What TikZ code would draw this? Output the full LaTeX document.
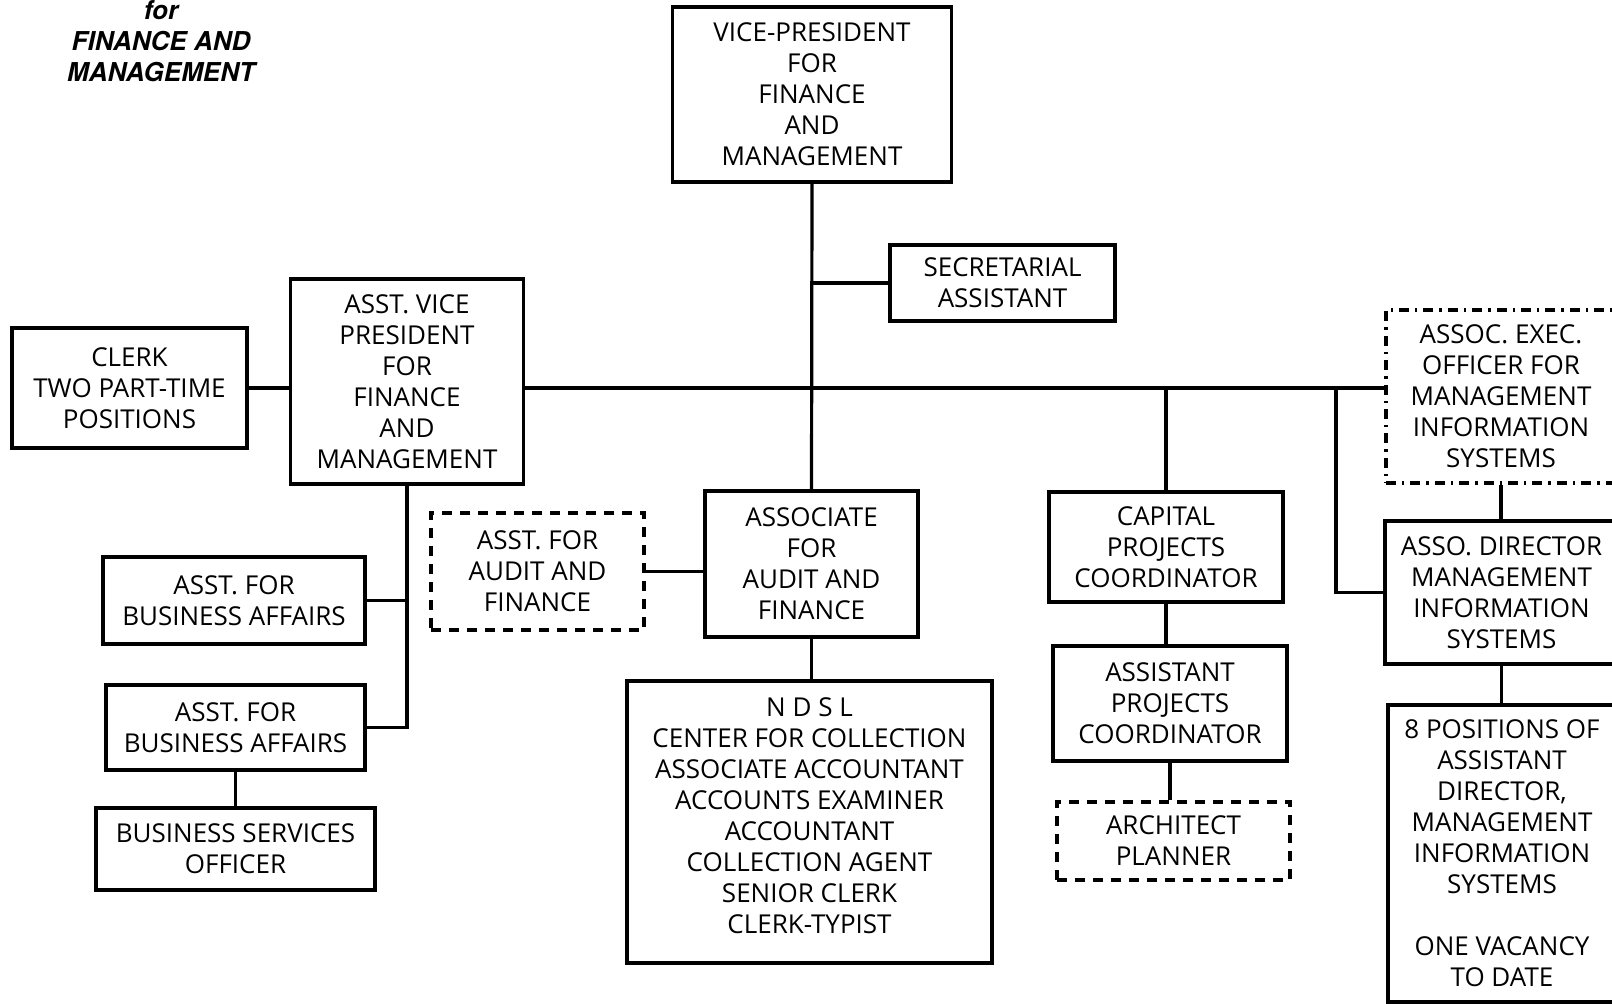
\documentclass[tikz,border=0pt]{standalone}
\usepackage{fontspec}
\setmainfont{Open Sans}
\newfontfamily\titlefont{TeX Gyre Heros}
\usetikzlibrary{positioning}
\tikzset{
  box/.style={draw, line width=1.8pt, inner sep=0pt, align=center,
    font=\fontsize{13}{15.5}\selectfont},
  dashbox/.style={box, dash pattern=on 5pt off 4pt},
  dotbox/.style={box, dash pattern=on 5pt off 3pt on 1.2pt off 3pt},
  wh/.style 2 args={minimum width=#1*0.5pt, minimum height=#2*0.5pt},
  link/.style={line width=1.6pt},
  heading/.style={align=center, font=\titlefont\bfseries\itshape\fontsize{13}{15.5}\selectfont}
}
\begin{document}
\begin{tikzpicture}[x=0.5pt, y=-0.5pt]
\useasboundingbox (0,0) rectangle (1612,1003);
\node[heading] (title) at (161,41) {for\\FINANCE AND\\MANAGEMENT};

\node[box, wh={279}{175}] (vp) at (812,94.5) {VICE-PRESIDENT\\FOR\\FINANCE\\AND\\MANAGEMENT};
\node[box, wh={225}{76}] (sec) at (1002.5,283) {SECRETARIAL\\ASSISTANT};
\node[box, wh={233}{205}] (avp) at (407,381.5) {ASST. VICE\\PRESIDENT\\FOR\\FINANCE\\AND\\MANAGEMENT};
\node[box, wh={235}{120}] (clerk) at (129.5,388) {CLERK\\TWO PART-TIME\\POSITIONS};
\node[box, wh={213}{146}] (assoc) at (811.5,564) {ASSOCIATE\\FOR\\AUDIT AND\\FINANCE};
\node[dashbox, wh={213}{117}] (audit) at (537.5,571.5) {ASST. FOR\\AUDIT AND\\FINANCE};
\node[box, wh={365}{282}, text depth=6pt] (ndsl) at (809.5,822) {N D S L\\CENTER FOR COLLECTION\\ASSOCIATE ACCOUNTANT\\ACCOUNTS EXAMINER\\ACCOUNTANT\\COLLECTION AGENT\\SENIOR CLERK\\CLERK-TYPIST};
\node[box, wh={262}{87}] (ba1) at (234,600.5) {ASST. FOR\\BUSINESS AFFAIRS};
\node[box, wh={259}{85}] (ba2) at (235.5,727.5) {ASST. FOR\\BUSINESS AFFAIRS};
\node[box, wh={279}{82}] (bso) at (235.5,849) {BUSINESS SERVICES\\OFFICER};
\node[box, wh={234}{110}] (cap) at (1166,547) {CAPITAL\\PROJECTS\\COORDINATOR};
\node[box, wh={234}{115}] (apc) at (1170,703.5) {ASSISTANT\\PROJECTS\\COORDINATOR};
\node[dashbox, wh={233}{78}] (arch) at (1173.5,841) {ARCHITECT\\PLANNER};
\node[dotbox, wh={230}{173}] (exec) at (1501,396.5) {ASSOC. EXEC.\\OFFICER FOR\\MANAGEMENT\\INFORMATION\\SYSTEMS};
\node[box, wh={233}{143}] (dir) at (1501.5,592.5) {ASSO. DIRECTOR\\MANAGEMENT\\INFORMATION\\SYSTEMS};
\node[box, wh={228}{297}] (eight) at (1502,853.5) {8 POSITIONS OF\\ASSISTANT\\DIRECTOR,\\MANAGEMENT\\INFORMATION\\SYSTEMS\\[15.5pt]ONE VACANCY\\TO DATE};

\coordinate (hub) at (811,388);
\coordinate (tap) at (1336,388);

\draw[link] (vp.south) -- (assoc.north);
\draw[link] (vp.south |- sec.west) -- (sec.west);
\draw[link] (avp.east |- hub) -- (exec.west |- hub);
\draw[link] (clerk.east) -- (clerk.east -| avp.west);
\draw[link] (avp.south) -- (avp.south |- ba2.east) -- (ba2.east);
\draw[link] (ba1.east) -- (ba1.east -| avp.south);
\draw[link] (ba2.south) -- (bso.north);
\draw[link] (audit.east) -- (audit.east -| assoc.west);
\draw[link] (assoc.south) -- (assoc.south |- ndsl.north);
\draw[link] (cap.north |- hub) -- (cap.north);
\draw[link] (cap.south) -- (cap.south |- apc.north);
\draw[link] (apc.south) -- (apc.south |- arch.north);
\draw[link] (tap) |- (dir.west);
\draw[link] (exec.south) -- (exec.south |- dir.north);
\draw[link] (dir.south) -- (dir.south |- eight.north);
\end{tikzpicture}
\end{document}
